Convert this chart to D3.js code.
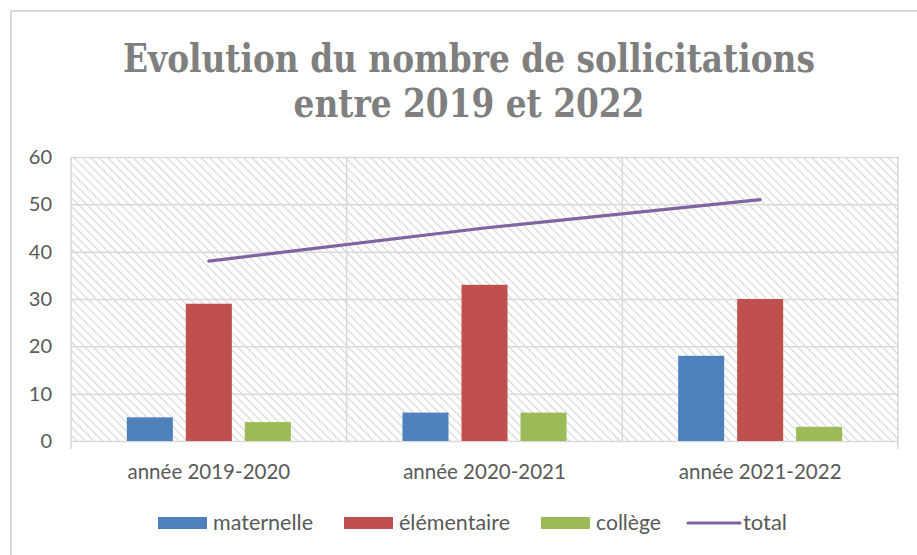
<!DOCTYPE html>
<html><head><meta charset="utf-8">
<script src="https://cdn.jsdelivr.net/npm/d3@7"></script>
<style>body{margin:0;background:#fff}svg{display:block}</style>
</head><body>
<svg id="c" width="917" height="555"></svg>
<script>
const categories = ["année 2019-2020", "année 2020-2021", "année 2021-2022"];
const seriesNames = ["maternelle", "élémentaire", "collège"];
const maternelle = [5, 6, 18];
const elementaire = [29, 33, 30];
const college = [4, 6, 3];
const total = [38, 45, 51];
const yTicks = [0, 10, 20, 30, 40, 50, 60];
const titleLines = ["Evolution du nombre de sollicitations", "entre 2019 et 2022"];
const colors = {"maternelle":"#4f81bd","élémentaire":"#c0504d","collège":"#9bbb59","total":"#8064a2"};
const seriesValues = {"maternelle":maternelle,"élémentaire":elementaire,"collège":college};

const svg = d3.select("#c");
const W = 917, H = 555;
const plot = {l:71, r:898, t:157, b:441};
const font = "Lato, 'Open Sans', sans-serif";
const txt = "#595959";

// chart frame
svg.append("path").attr("d", `M11,${H} L11,11 L${W},11`).attr("fill","none")
  .attr("stroke","#d9d9d9").attr("stroke-width",2);

// hatch pattern
const defs = svg.append("defs");
const pat = defs.append("pattern").attr("id","hatch").attr("patternUnits","userSpaceOnUse")
  .attr("width",6).attr("height",6).attr("patternTransform","rotate(-45)");
pat.append("line").attr("x1",0).attr("y1",0).attr("x2",0).attr("y2",6)
  .attr("stroke","#d6d6d6").attr("stroke-width",2.4);

const x0 = d3.scaleBand().domain(categories).range([plot.l, plot.r]);
const x1 = d3.scaleBand().domain(seriesNames).range([0, x0.bandwidth()]).paddingInner(0.22).paddingOuter(0.946);
const y = d3.scaleLinear().domain([0, 60]).range([plot.b, plot.t]);

svg.append("rect").attr("x",plot.l).attr("y",plot.t).attr("width",plot.r-plot.l).attr("height",plot.b-plot.t)
  .attr("fill","url(#hatch)");

// horizontal gridlines
const yAxis = d3.axisLeft(y).tickValues(yTicks).tickSize(-(plot.r-plot.l)).tickPadding(19);
const gy = svg.append("g").attr("transform",`translate(${plot.l},0)`).call(yAxis);
gy.select(".domain").remove();
gy.selectAll(".tick line").attr("stroke","#d9d9d9").attr("stroke-width",1.5);
gy.selectAll(".tick text").attr("fill",txt).style("font-family",font).style("font-size","20px");

// vertical gridlines at category boundaries
const bounds = categories.map(c => x0(c)).concat([x0(categories[2]) + x0.bandwidth()]);
svg.append("g").selectAll("line").data(bounds).join("line")
  .attr("x1",d=>d).attr("x2",d=>d).attr("y1",plot.t).attr("y2",(d,i)=> (i===0||i===bounds.length-1)? plot.b+8 : plot.b)
  .attr("stroke","#d9d9d9").attr("stroke-width",1.5);

// x axis labels
const xAxis = d3.axisBottom(x0).tickSize(0).tickPadding(23);
const gx = svg.append("g").attr("transform",`translate(0,${plot.b})`).call(xAxis);
gx.select(".domain").remove();
gx.selectAll(".tick text").attr("fill",txt).style("font-family",font).style("font-size","20.5px");

// bars
const groups = svg.append("g").selectAll("g").data(categories).join("g")
  .attr("transform",d=>`translate(${x0(d)},0)`);
groups.selectAll("rect").data((c,i)=>seriesNames.map(s=>({s, v:seriesValues[s][i]}))).join("rect")
  .attr("x",d=>x1(d.s)).attr("width",x1.bandwidth())
  .attr("y",d=>y(d.v)).attr("height",d=>y(0)-y(d.v)).attr("fill",d=>colors[d.s]);

// total line
const line = d3.line().x((d,i)=>x0(categories[i])+x0.bandwidth()/2).y(d=>y(d));
svg.append("path").datum(total).attr("d",line).attr("fill","none")
  .attr("stroke",colors.total).attr("stroke-width",3.2).attr("stroke-linecap","round");

// title
const tg = svg.append("g");
const tfont = "'DejaVu Serif', 'Liberation Serif', serif";
const t1 = tg.append("text").attr("x",0).attr("y",72).text(titleLines[0]);
const t2 = tg.append("text").attr("x",0).attr("y",117).text(titleLines[1]);
tg.selectAll("text").attr("text-anchor","middle").attr("fill","#7f7f7f")
  .style("font-family",tfont).style("font-weight","bold").style("font-stretch","condensed").style("font-size","40px");
const nat = t1.node().getComputedTextLength();
const sx = 692 / nat;
tg.attr("transform",`translate(469,0) scale(${sx},1)`);

// legend
const legendItems = [
  {name:"maternelle", x:158, type:"rect", w:100},
  {name:"élémentaire", x:344, type:"rect", w:111},
  {name:"collège", x:541, type:"rect", w:65},
  {name:"total", x:688, type:"line", w:44}
];
const lg = svg.append("g");
legendItems.forEach(it => {
  if (it.type === "rect") {
    lg.append("rect").attr("x",it.x).attr("y",517).attr("width",49).attr("height",12).attr("fill",colors[it.name]);
  } else {
    lg.append("line").attr("x1",it.x).attr("x2",it.x+52).attr("y1",523).attr("y2",523)
      .attr("stroke",colors.total).attr("stroke-width",3.2).attr("stroke-linecap","round");
  }
  lg.append("text").attr("x",it.x+55).attr("y",529.5).text(it.name)
    .attr("textLength", it.w).attr("lengthAdjust","spacingAndGlyphs")
    .attr("fill",txt).style("font-family",font).style("font-size","21.5px");
});
</script>
</body></html>
